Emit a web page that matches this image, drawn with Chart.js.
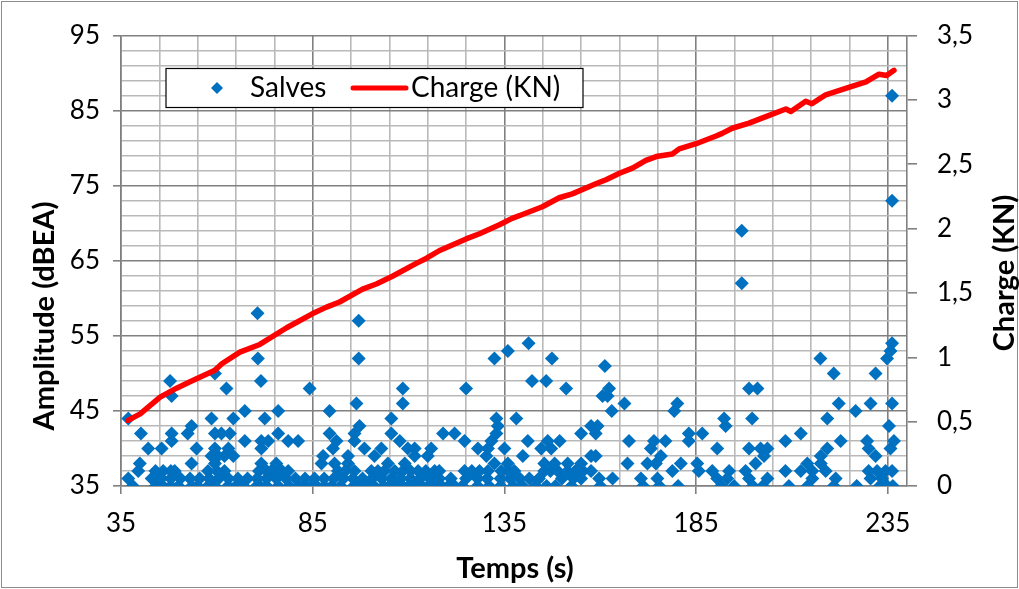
<!DOCTYPE html>
<html>
<head>
<meta charset="utf-8">
<script src="https://cdn.jsdelivr.net/npm/chart.js@4.4.1/dist/chart.umd.min.js"></script>
<style>
  html, body { margin: 0; padding: 0; background: #fff; }
</style>
</head>
<body>
<canvas id="chart" width="1019" height="589"></canvas>
<script>
// ---------------- DATA ----------------
// Salves: temps (s) of each hit, grouped by amplitude (dBEA)
const temps35 = [38.1, 44.1, 45.9, 48, 50, 53.5, 55, 57.7, 59.5, 62.9, 65, 67, 70.4, 71.2, 73, 76, 78.8, 81.4, 83, 84.7,
  86, 88, 90, 92.3, 95.7, 97, 99.1, 101, 103.5, 105, 106.9, 108.4, 110, 111.8, 113.5, 115.2, 117, 118.6, 120.4, 122,
  124, 128, 131, 134, 137.3, 139.7, 143.1, 146, 148.3, 152.5, 160, 171.2, 175.4, 180.3, 191.5, 194.9, 199.8, 202.4,
  209.2, 214.1, 220.9, 226.9, 232.9, 234.8, 236.3];
const temps36 = [36.9, 43, 45.5, 48, 50.5, 53, 55.5, 58, 60.5, 63, 65.5, 68, 70.5, 73, 75.5, 78, 80.5, 83, 85.5, 88,
  90.5, 93, 95.5, 98, 100.5, 103, 105.5, 108, 110.5, 113, 115.5, 118, 121, 125, 128, 130.5, 134, 136.5, 139, 141.5,
  144, 150, 153, 155, 159.7, 163.2, 170.6, 174.9, 190.5, 193.1, 198.8, 203.6, 215.3, 221.4, 230.5, 233.5];
const temps37 = [39.5, 44, 46, 48, 49, 57.7, 60, 62, 71, 73, 74.2, 75, 77, 78.6, 91.6, 93.5, 95.9, 100.3, 102, 103.7,
  106.4, 108.5, 110.5, 112.5, 114.5, 116.8, 118, 124.6, 126.5, 128.5, 130.7, 134.2, 136, 137.6, 145.4, 147, 148.9,
  151.5, 153.5, 155.5, 157.6, 178.8, 185.7, 189.2, 193.6, 197.9, 208.3, 212.3, 215.3, 218.8, 230, 232.2, 234.4, 236.1];
const temps38 = [39.9, 53.4, 59.5, 71.6, 75.5, 87.3, 90.7, 94.2, 104.6, 109, 132.4, 135.9, 145.4, 148.1, 151.5, 155,
  167.1, 172.3, 174.5, 181, 185.3, 200.5, 214, 217.5];
const temps39 = [58.6, 60.3, 62, 64.3, 87.7, 94.2, 101.1, 111.6, 115, 130.3, 139.8, 157.6, 158.8, 175.8, 202.7, 217.5, 231.8];
const temps40 = [42.1, 45.6, 54.7, 59.5, 63, 71.6, 90.3, 98.5, 102.9, 109.8, 111.6, 115.9, 128.1, 130.7, 135, 144.6,
  147.2, 173.2, 190.5, 198.8, 201.8, 203.6, 219.2, 230, 235.7];
const temps41 = [48.2, 67.3, 71.6, 73.4, 78.6, 81.2, 91.2, 95.9, 107.7, 124.6, 131.6, 141.1, 146.3, 149.4, 167.5, 174,
  177, 183.1, 208.3, 222.7, 229.6, 236.6];
const temps42 = [40.2, 48.2, 52.4, 59.5, 61.2, 63.4, 76, 89.4, 95.9, 105.5, 119, 122, 132.9, 155, 158.8, 183.1, 186.6, 212.3];
const temps43 = [53.4, 97.2, 133.3, 157.6, 159.3, 192.7, 235.3];
const temps44 = [36.9, 58.6, 64.3, 72.5, 105.5, 132.9, 138.1, 192.3, 199.6, 219.2];

// the sparse hits above 44 dBEA
const highTemps = [67.3, 76, 89.4, 163, 179.3, 226.6,
  96.4, 108.5, 166.3, 180.1, 222.2, 230.5, 236.1,
  48.2, 160.6, 161.9,
  62.5, 84.2, 108.5, 125, 151.1, 162.3, 198.8, 201,
  47.8, 71.5, 142.2, 145.9,
  59.5, 220.9, 231.8,
  161.2,
  70.7, 97, 132.4, 147.4, 217.4, 234.8,
  135.9, 235.7,
  141.3, 236.1,
  97, 70.6, 196.9, 196.9, 236.1, 236.1];
const highAmp = [45, 45, 45, 45, 45, 45,
  46, 46, 46, 46, 46, 46, 46,
  47, 47, 47,
  48, 48, 48, 48, 48, 48, 48, 48,
  49, 49, 49, 49,
  50, 50, 50,
  51,
  52, 52, 52, 52, 52, 52,
  53, 53,
  54, 54,
  57, 58, 62, 69, 73, 87];

// Charge (KN) against temps (s)
const chargeTemps = [36.8, 40, 45.2, 49.5, 53, 59.5, 61.3, 66, 71.2, 78.2, 85, 88.6, 92, 98, 101.6, 105.8, 112, 114.7,
  118.1, 125, 128.5, 133.7, 137, 139.7, 144.9, 149.3, 152.7, 159, 161.5, 165, 168.4, 171.9, 174.6, 178.8, 180.6, 185,
  190.2, 191.8, 194.4, 198.8, 203.2, 208.4, 209.7, 213.6, 215.2, 218.8, 224, 229.3, 232.7, 234.7, 236.6];
const chargeKN = [0.51, 0.56, 0.69, 0.76, 0.81, 0.90, 0.95, 1.04, 1.10, 1.23, 1.34, 1.39, 1.43, 1.53, 1.57, 1.63, 1.73, 1.77,
  1.83, 1.92, 1.96, 2.03, 2.08, 2.11, 2.17, 2.24, 2.27, 2.35, 2.38, 2.43, 2.47, 2.53, 2.56, 2.58, 2.62, 2.66,
  2.72, 2.74, 2.78, 2.82, 2.87, 2.93, 2.91, 2.99, 2.97, 3.04, 3.09, 3.14, 3.20, 3.19, 3.23];

const xLabels = [35, 85, 135, 185, 235];
const yLabels = [35, 45, 55, 65, 75, 85, 95];

// ---------------- BUILD POINTS ----------------
const salvesGroups = [[35, temps35], [36, temps36], [37, temps37], [38, temps38], [39, temps39],
  [40, temps40], [41, temps41], [42, temps42], [43, temps43], [44, temps44]];
const salvesPoints = [];
salvesGroups.forEach(g => g[1].forEach(t => salvesPoints.push({ x: t, y: g[0] })));
highTemps.forEach((t, i) => salvesPoints.push({ x: t, y: highAmp[i] }));

const chargePoints = chargeTemps.map((t, i) => ({ x: t, y: chargeKN[i] }));

// ---------------- STYLE ----------------
const MAJOR = "#808080";
const MINOR = "#b9b9b9";
const BLUE = "#0070C0";
const RED = "#FF0000";

Chart.defaults.font.family = "Lato";
Chart.defaults.font.size = 26;
Chart.defaults.color = "#000";

// legend, axis titles and the outer frame
const decor = {
  id: "decor",
  afterDraw(chart) {
    const ctx = chart.ctx;
    ctx.save();
    ctx.strokeStyle = "#8c8c8c";
    ctx.lineWidth = 1;
    ctx.strokeRect(1.5, 1.5, chart.width - 3, chart.height - 3);

    // legend box
    ctx.fillStyle = "#fff";
    ctx.fillRect(166, 68, 417, 39);
    ctx.strokeStyle = "#000";
    ctx.lineWidth = 1.2;
    ctx.strokeRect(166, 68.5, 417, 39);

    ctx.fillStyle = BLUE;
    ctx.beginPath();
    ctx.moveTo(217, 82); ctx.lineTo(223, 88); ctx.lineTo(217, 94); ctx.lineTo(211, 88);
    ctx.closePath();
    ctx.fill();

    ctx.strokeStyle = RED;
    ctx.lineWidth = 5;
    ctx.lineCap = "round";
    ctx.beginPath();
    ctx.moveTo(353, 88); ctx.lineTo(406, 88);
    ctx.stroke();

    ctx.fillStyle = "#000";
    ctx.font = "28px Lato";
    ctx.textAlign = "left";
    ctx.textBaseline = "middle";
    ctx.fillText("Salves", 250, 88);
    ctx.fillText("Charge (KN)", 411, 88);

    // axis titles
    ctx.font = "bold 29px Lato";
    ctx.textAlign = "center";
    ctx.fillText("Temps (s)", 515, 569);

    ctx.save();
    ctx.translate(45, 316);
    ctx.rotate(-Math.PI / 2);
    ctx.fillText("Amplitude (dBEA)", 0, 0);
    ctx.restore();

    ctx.save();
    ctx.translate(1005, 273);
    ctx.rotate(-Math.PI / 2);
    ctx.fillText("Charge (KN)", 0, 0);
    ctx.restore();

    ctx.restore();
  }
};

// ---------------- CHART ----------------
new Chart(document.getElementById("chart"), {
  type: "scatter",
  data: {
    datasets: [
      {
        label: "Charge (KN)",
        data: chargePoints,
        yAxisID: "y1",
        showLine: true,
        borderColor: RED,
        backgroundColor: RED,
        borderWidth: 5.5,
        pointRadius: 0,
        tension: 0,
        borderJoinStyle: "round",
        borderCapStyle: "round",
        order: 0
      },
      {
        label: "Salves",
        data: salvesPoints,
        yAxisID: "y",
        pointStyle: "rectRot",
        pointRadius: 7,
        backgroundColor: BLUE,
        borderColor: BLUE,
        borderWidth: 0,
        order: 1
      }
    ]
  },
  options: {
    responsive: false,
    animation: false,
    devicePixelRatio: 1,
    layout: { padding: { top: 34, left: 0, right: 0, bottom: 0 } },
    plugins: { legend: { display: false }, tooltip: { enabled: false } },
    scales: {
      x: {
        type: "linear",
        min: 35,
        max: 240,
        afterBuildTicks: s => {
          const t = [];
          for (let v = 35; v <= 235; v += 10) t.push({ value: v });
          s.ticks = t;
        },
        afterFit: s => { s.height = 103; },
        ticks: {
          autoSkip: false,
          maxRotation: 0,
          padding: 14,
          callback: v => xLabels.includes(v) ? String(v) : ""
        },
        grid: {
          color: c => xLabels.includes(c.tick.value) ? MAJOR : MINOR,
          lineWidth: 1.6,
          tickLength: 8,
          tickColor: c => xLabels.includes(c.tick.value) ? MAJOR : "rgba(0,0,0,0)"
        },
        border: { color: MAJOR, width: 1.6 }
      },
      y: {
        position: "left",
        min: 35,
        max: 95,
        afterFit: s => { s.width = 121; },
        ticks: {
          stepSize: 2,
          autoSkip: false,
          padding: 13,
          callback: v => yLabels.includes(v) ? String(v) : ""
        },
        grid: {
          color: c => yLabels.includes(c.tick.value) ? MAJOR : MINOR,
          lineWidth: 1.6,
          tickLength: 8,
          tickColor: c => yLabels.includes(c.tick.value) ? MAJOR : "rgba(0,0,0,0)"
        },
        border: { color: MAJOR, width: 1.6 }
      },
      y1: {
        position: "right",
        min: 0,
        max: 3.5,
        afterFit: s => { s.width = 112; },
        ticks: {
          stepSize: 0.5,
          padding: 20,
          callback: v => String(v).replace(".", ",")
        },
        grid: {
          drawOnChartArea: false,
          tickLength: 10,
          tickColor: MAJOR,
          lineWidth: 1.6
        },
        border: { color: MAJOR, width: 1.6 }
      }
    }
  },
  plugins: [decor]
});
</script>
</body>
</html>
